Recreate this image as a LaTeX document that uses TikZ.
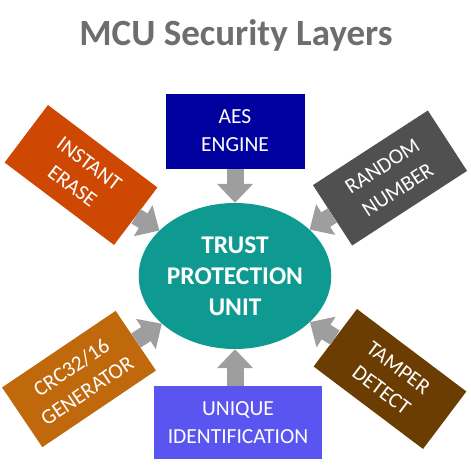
\documentclass[tikz,border=0pt]{standalone}
\usepackage{fontspec}
\setmainfont{Carlito}
\usetikzlibrary{positioning,arrows.meta,shapes.geometric}

\definecolor{titlegray}{RGB}{110,110,110}
\definecolor{aesblue}{RGB}{0,0,158}
\definecolor{eraseorange}{RGB}{206,72,4}
\definecolor{randomgray}{RGB}{80,80,80}
\definecolor{crcorange}{RGB}{192,104,12}
\definecolor{tamperbrown}{RGB}{107,61,3}
\definecolor{uniqueblue}{RGB}{90,85,240}
\definecolor{trustteal}{RGB}{14,154,144}
\definecolor{feedgray}{RGB}{158,158,158}

\tikzset{
  layer/.style={rectangle, text=white, align=center, inner sep=0pt,
    minimum width=137pt, minimum height=72pt,
    font=\fontsize{21.5}{28}\selectfont},
  core/.style={ellipse, fill=trustteal, text=white, align=center, inner sep=0pt,
    minimum width=176pt, minimum height=146pt,
    font=\bfseries\fontsize{25.5}{31}\selectfont},
  feed/.style={draw=feedgray, line width=17pt,
    -{Triangle[length=19pt, width=35pt]}},
}

\begin{document}
\begin{tikzpicture}[x=1pt, y=1pt]
            \useasboundingbox (0,0) rectangle (471,465);

            % Define nodes
            \node[text=titlegray, font=\bfseries\fontsize{37}{44}\selectfont] (title) at (236,430) {MCU Security Layers};
            \node[core] (tpu) at (235,189) {TRUST\\PROTECTION\\UNIT};

            \node[layer, fill=aesblue, minimum width=139pt, minimum height=75pt, above=34pt of tpu] (aes) {AES\\ENGINE};
            \node[layer, fill=uniqueblue, minimum width=168pt, minimum height=73pt, below=37pt of tpu, xshift=3pt] (unique) {UNIQUE\\IDENTIFICATION};

            \node[layer, fill=eraseorange, rotate=-37] (erase) at (81,290) {INSTANT\\ERASE};
            \node[layer, fill=randomgray, rotate=33] (random) at (390,287) {RANDOM\\NUMBER};
            \node[layer, fill=crcorange, rotate=34] (crc) at (79,86) {CRC32/16\\GENERATOR};
            \node[layer, fill=tamperbrown, rotate=-37] (tamper) at (390,86) {TAMPER\\DETECT};

            % Connect the nodes
            \draw[feed] (aes) -- (tpu);
            \draw[feed] (unique.north -| tpu) -- (tpu);
            \draw[feed] (erase.east) -- (tpu);
            \draw[feed] (random.west) -- (tpu);
            \draw[feed] (crc.east) -- (tpu);
            \draw[feed] (tamper.west) -- (tpu);
          \end{tikzpicture}
\end{document}
